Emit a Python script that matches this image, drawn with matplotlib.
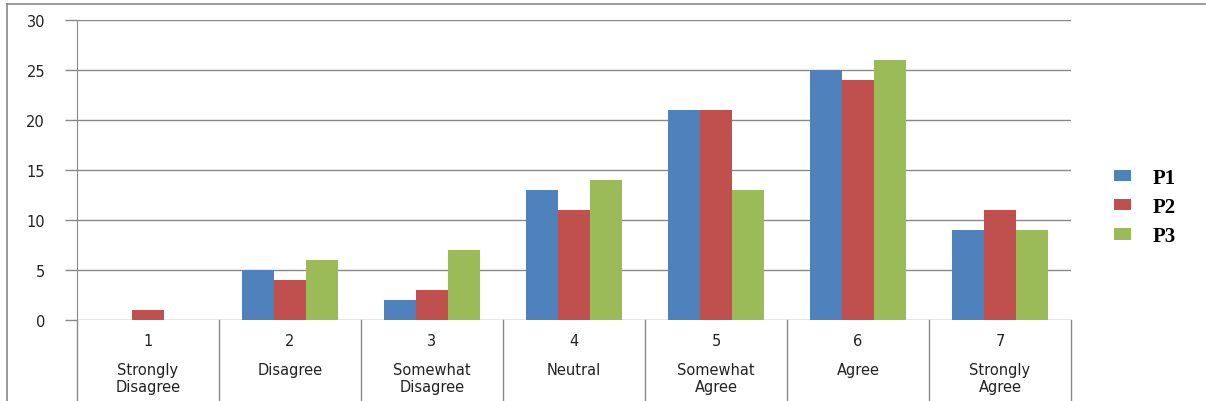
import matplotlib
matplotlib.use("Agg")
import matplotlib.pyplot as plt
from matplotlib.lines import Line2D
import matplotlib.transforms as mtransforms

categories = ["1", "2", "3", "4", "5", "6", "7"]
cat_labels = ["Strongly\nDisagree", "Disagree", "Somewhat\nDisagree", "Neutral",
              "Somewhat\nAgree", "Agree", "Strongly\nAgree"]
series_names = ["P1", "P2", "P3"]
p1 = [0, 5, 2, 13, 21, 25, 9]
p2 = [1, 4, 3, 11, 21, 24, 11]
p3 = [0, 6, 7, 14, 13, 26, 9]
yticks = [0, 5, 10, 15, 20, 25, 30]
colors = ["#4F81BD", "#C0504D", "#9BBB59"]

fig = plt.figure(figsize=(12.06, 4.02), dpi=100)
ax = fig.add_axes([77/1206, 1-321/402, (1071-77)/1206, 300/402])

w = 0.225
x = list(range(len(categories)))
handles = []
for k, (vals, c) in enumerate(zip([p1, p2, p3], colors)):
    xs = [xi + (k-1)*w for xi in x]
    b = ax.bar(xs, vals, width=w, color=c, zorder=3, linewidth=0)
    handles.append(b)

ax.set_xlim(-0.5, len(categories)-0.5)
ax.set_ylim(0, 30)
ax.set_yticks(yticks)
ax.set_yticklabels([str(v) for v in yticks], fontsize=10.5, color="#222222")
ax.tick_params(axis="y", length=9, color="#888888", width=1, pad=14)
ax.set_xticks([])
ax.grid(axis="y", color="#888888", linewidth=1, zorder=0)
for s in ["top", "right", "bottom"]:
    ax.spines[s].set_visible(False)
ax.spines["left"].set_color("#888888")

trans = mtransforms.blended_transform_factory(ax.transData, ax.transAxes)
ext = -80/300
for b in [i - 0.5 for i in range(len(categories)+1)]:
    ax.plot([b, b], [0, ext], transform=trans, color="#888888", lw=1, clip_on=False)
for i, (num, lab) in enumerate(zip(categories, cat_labels)):
    ax.text(i, -21/300, num, transform=trans, ha="center", va="center",
            fontsize=10.5, color="#222222")
    ax.text(i, -42/300, lab, transform=trans, ha="center", va="top",
            fontsize=10.5, color="#222222", linespacing=1.2)

fig.legend(handles, series_names, loc="center left",
           bbox_to_anchor=(1095/1206, 1-208/402), frameon=False,
           prop={"family": "Liberation Serif", "weight": "bold", "size": 15},
           handlelength=0.85, handleheight=0.45, labelspacing=0.45, handletextpad=1.0)

# outer border (top and left only visible)
fig.add_artist(Line2D([7/1206, 1205/1206], [1-5/402, 1-5/402], transform=fig.transFigure,
                      color="#888888", lw=1.2))
fig.add_artist(Line2D([7/1206, 7/1206], [0, 1-5/402], transform=fig.transFigure,
                      color="#888888", lw=1.2))

fig.savefig("out.png", dpi=100)
